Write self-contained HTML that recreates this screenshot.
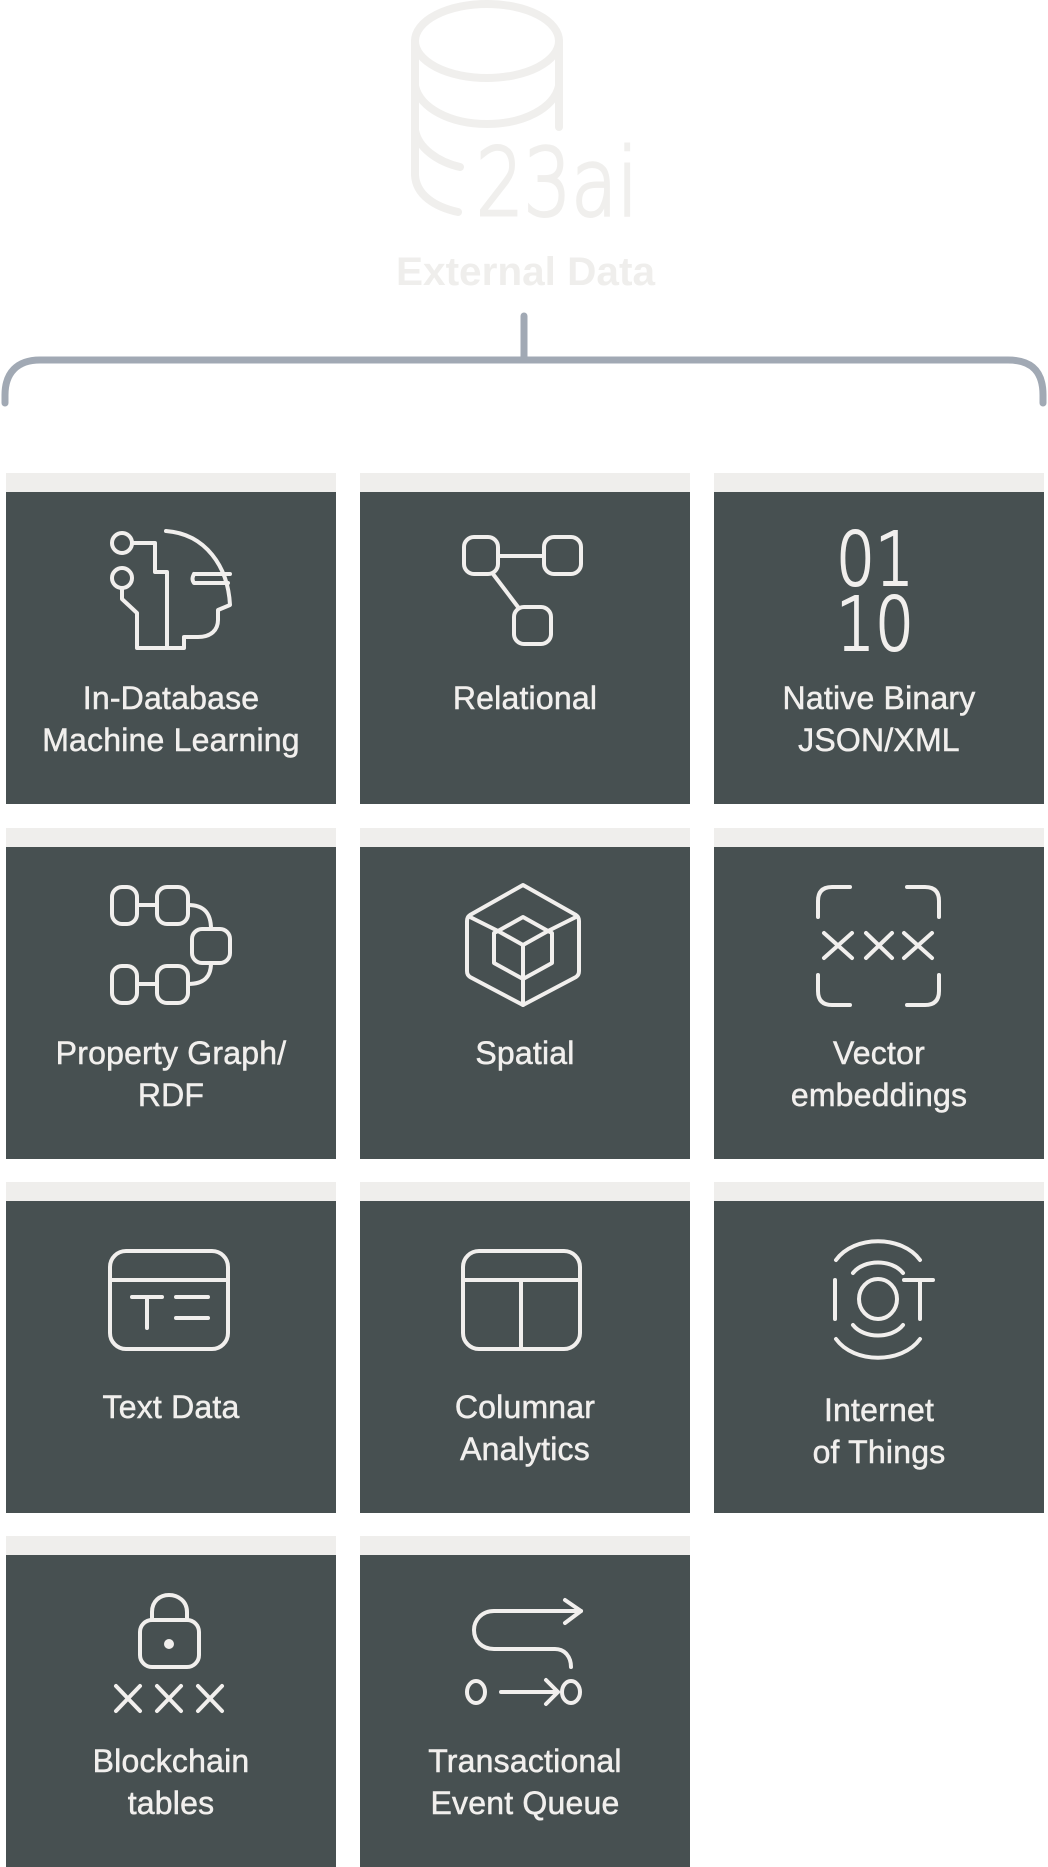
<!DOCTYPE html>
<html><head><meta charset="utf-8"><style>
html,body{margin:0;padding:0;background:#fff;}
body{width:1048px;height:1866px;position:relative;overflow:hidden;font-family:"Liberation Sans",sans-serif;}
.card{position:absolute;width:330px;height:331px;}
.strip{position:absolute;left:0;top:0;width:330px;height:19px;background:#efeeec;}
.dark{position:absolute;left:0;top:19px;width:330px;height:312px;background:#475051;}
.dark svg{position:absolute;left:0;top:0;}
.lbl{position:absolute;left:0;top:185px;width:330px;text-align:center;color:#f1efed;font-size:32px;line-height:42px;-webkit-text-stroke:0.5px #f1efed;letter-spacing:0.2px;}
</style></head><body>
<svg width="1048" height="420" style="position:absolute;left:0;top:0" fill="none" stroke-linecap="round">
 <g stroke="#f0efed" stroke-width="8">
  <ellipse cx="487" cy="41" rx="72" ry="37"/>
  <path d="M559,41 L559,127"/>
  <path d="M415,41 L415,175 C416,195 435,207 458,212"/>
  <path d="M415,86 C420,108 450,124 487,124 C524,124 554,108 559,86"/>
  <path d="M415,130 C418,148 438,162 460,167"/>
 </g>
 <text x="476" y="215" textLength="162" lengthAdjust="spacingAndGlyphs" font-family="DejaVu Sans ExtraLight, DejaVu Sans, sans-serif" font-weight="200" font-size="94" fill="#f0efed" stroke="#f0efed" stroke-width="3">23ai</text>
 <text x="396" y="285" textLength="259" lengthAdjust="spacingAndGlyphs" font-family="Liberation Sans, sans-serif" font-weight="bold" font-size="40" fill="#efeeec" stroke="none">External Data</text>
 <path d="M524,316 L524,360 M5,403 L5,395 C5,373 17,360 40,360 L1008,360 C1033,360 1043,373 1043,395 L1043,403" stroke="#a1a9b4" stroke-width="7"/>
</svg>

<!-- Row 1 -->
<div class="card" style="left:6px;top:473px"><div class="strip"></div><div class="dark">
<svg width="330" height="312" fill="none" stroke="#f1efed" stroke-width="4" stroke-linecap="round" stroke-linejoin="round">
 <circle cx="116" cy="51" r="10"/><circle cx="116" cy="86" r="10"/>
 <path d="M126,51 L149,51 L149,80 L161,80 L161,156"/>
 <path d="M116,96 L116,107 L131,121 L131,156 L178,156 L178,145 L192,145 C205,145 212,138 212,128 L212,118 L224,113 C222,75 200,42 160,39"/>
 <path d="M188,82 L224,82 M188,82 C186,86 186,88 188,91 L222,91"/>
</svg>
<div class="lbl">In-Database<br>Machine Learning</div></div></div>

<div class="card" style="left:360px;top:473px"><div class="strip"></div><div class="dark">
<svg width="330" height="312" fill="none" stroke="#f1efed" stroke-width="4" stroke-linecap="round" stroke-linejoin="round">
 <rect x="104" y="45" width="34" height="37" rx="10"/><rect x="184" y="45" width="37" height="37" rx="10"/>
 <rect x="154" y="115" width="37" height="37" rx="10"/>
 <path d="M138,64 L184,64 M133,82 L158,115"/>
</svg>
<div class="lbl">Relational</div></div></div>

<div class="card" style="left:714px;top:473px"><div class="strip"></div><div class="dark">
<svg width="330" height="312">
 <g font-family="DejaVu Sans ExtraLight, DejaVu Sans, sans-serif" font-weight="200" font-size="74" fill="#f1efed" stroke="#f1efed" stroke-width="2">
 <text x="122" y="93" textLength="78" lengthAdjust="spacingAndGlyphs">01</text>
 <text x="122" y="158" textLength="78" lengthAdjust="spacingAndGlyphs">10</text></g>
</svg>
<div class="lbl">Native Binary<br>JSON/XML</div></div></div>

<!-- Row 2 -->
<div class="card" style="left:6px;top:828px"><div class="strip"></div><div class="dark">
<svg width="330" height="312" fill="none" stroke="#f1efed" stroke-width="4" stroke-linecap="round" stroke-linejoin="round">
 <rect x="106" y="40" width="25" height="37" rx="10"/><rect x="151" y="40" width="31" height="37" rx="10"/>
 <rect x="186" y="82" width="38" height="34" rx="10"/>
 <rect x="106" y="119" width="25" height="37" rx="10"/><rect x="151" y="119" width="31" height="37" rx="10"/>
 <path d="M131,58 L151,58 M131,137 L151,137"/>
 <path d="M182,58 C198,58 205,66 205,82 M205,116 C205,130 198,137 182,137"/>
</svg>
<div class="lbl">Property Graph/<br>RDF</div></div></div>

<div class="card" style="left:360px;top:828px"><div class="strip"></div><div class="dark">
<svg width="330" height="312" fill="none" stroke="#f1efed" stroke-width="4" stroke-linecap="round" stroke-linejoin="round">
 <path d="M163,38 L216,68 Q219,70 219,74 L219,124 Q219,128 216,130 L163,158 L110,130 Q107,128 107,124 L107,74 Q107,70 110,68 Z"/>
 <path d="M163,70 L188,84 L163,98 L138,84 Z"/>
 <path d="M163,98 L163,158 M138,84 L134,86 L134,116 L163,132 M188,84 L192,86 L192,116 L163,132"/>
 <path d="M110,70 L138,84 M216,70 L188,84"/>
</svg>
<div class="lbl">Spatial</div></div></div>

<div class="card" style="left:714px;top:828px"><div class="strip"></div><div class="dark">
<svg width="330" height="312" fill="none" stroke="#f1efed" stroke-width="4" stroke-linecap="round" stroke-linejoin="round">
 <path d="M136,40 L118,40 Q104,40 104,54 L104,70"/>
 <path d="M193,40 L211,40 Q225,40 225,54 L225,70"/>
 <path d="M104,128 L104,144 Q104,158 118,158 L136,158"/>
 <path d="M225,128 L225,144 Q225,158 211,158 L193,158"/>
 <path d="M110,86 L138,111 M138,86 L110,111 M152,86 L178,111 M178,86 L152,111 M190,86 L218,111 M218,86 L190,111"/>
</svg>
<div class="lbl">Vector<br>embeddings</div></div></div>

<!-- Row 3 -->
<div class="card" style="left:6px;top:1182px"><div class="strip"></div><div class="dark">
<svg width="330" height="312" fill="none" stroke="#f1efed" stroke-width="4" stroke-linecap="round" stroke-linejoin="round">
 <rect x="104" y="50" width="118" height="98" rx="16"/>
 <path d="M104,79 L222,79"/>
 <path d="M126,96 L156,96 M141,96 L141,127 M170,96 L202,96 M170,117 L202,117"/>
</svg>
<div class="lbl">Text Data</div></div></div>

<div class="card" style="left:360px;top:1182px"><div class="strip"></div><div class="dark">
<svg width="330" height="312" fill="none" stroke="#f1efed" stroke-width="4" stroke-linecap="round" stroke-linejoin="round">
 <rect x="103" y="50" width="117" height="98" rx="16"/>
 <path d="M103,79 L220,79 M161,79 L161,148"/>
</svg>
<div class="lbl">Columnar<br>Analytics</div></div></div>

<div class="card" style="left:714px;top:1182px"><div class="strip"></div><div class="dark">
<svg width="330" height="312" fill="none" stroke="#f1efed" stroke-width="4" stroke-linecap="round" stroke-linejoin="round">
 <path d="M122,59 C140,34 188,34 206,59"/>
 <path d="M139,72 C150,58 178,58 189,72"/>
 <path d="M139,124 C150,138 178,138 189,124"/>
 <path d="M122,138 C140,163 188,163 206,138"/>
 <path d="M121,79 L121,118"/>
 <ellipse cx="164" cy="98" rx="19" ry="20"/>
 <path d="M190,79 L219,79 M206,79 L206,118"/>
</svg>
<div class="lbl" style="top:188px">Internet<br>of Things</div></div></div>

<!-- Row 4 -->
<div class="card" style="left:6px;top:1536px"><div class="strip"></div><div class="dark">
<svg width="330" height="312" fill="none" stroke="#f1efed" stroke-width="4" stroke-linecap="round" stroke-linejoin="round">
 <path d="M146,65 L146,57 C146,46 154,40 163,40 C172,40 181,46 181,57 L181,65"/>
 <rect x="134" y="65" width="59" height="47" rx="12"/>
 <circle cx="163" cy="89" r="3" fill="#f1efed"/>
 <path d="M110,131 L134,156 M134,131 L110,156 M151,131 L175,156 M175,131 L151,156 M192,131 L216,156 M216,131 L192,156"/>
</svg>
<div class="lbl">Blockchain<br>tables</div></div></div>

<div class="card" style="left:360px;top:1536px"><div class="strip"></div><div class="dark">
<svg width="330" height="312" fill="none" stroke="#f1efed" stroke-width="4" stroke-linecap="round" stroke-linejoin="round">
 <path d="M221,56 L134,56 C122,56 114,65 114,75 C114,86 122,94 134,94 L195,94 C205,94 211,102 211,112"/>
 <path d="M205,45 L221,56 L205,68"/>
 <ellipse cx="116" cy="137" rx="9" ry="11"/>
 <ellipse cx="211" cy="137" rx="9" ry="11"/>
 <path d="M141,137 L198,137 M186,125 L198,137 L186,149"/>
</svg>
<div class="lbl">Transactional<br>Event Queue</div></div></div>

</body></html>
